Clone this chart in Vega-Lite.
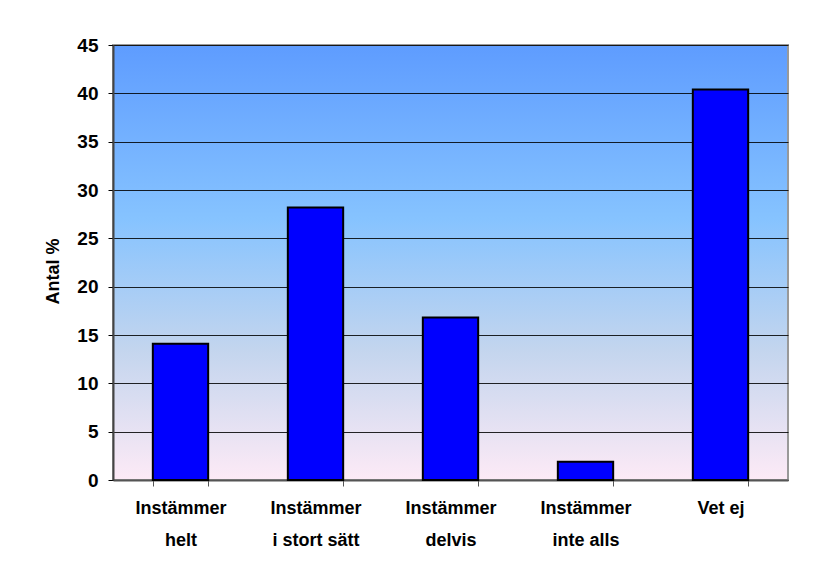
{
  "$schema": "https://vega.github.io/schema/vega-lite/v6.json",
  "autosize": "none",
  "width": 675,
  "height": 435,
  "padding": {"left": 113, "top": 45, "right": 26, "bottom": 103},
  "background": "white",
  "data": {
    "values": [
      {"kategori": "Instämmer helt", "antal": 14.1},
      {"kategori": "Instämmer i stort sätt", "antal": 28.2},
      {"kategori": "Instämmer delvis", "antal": 16.8},
      {"kategori": "Instämmer inte alls", "antal": 1.9},
      {"kategori": "Vet ej", "antal": 40.4}
    ]
  },
  "mark": {"type": "bar", "color": "#0000FF", "stroke": "#000000", "strokeWidth": 2},
  "encoding": {
    "x": {
      "field": "kategori",
      "type": "nominal",
      "sort": null,
      "scale": {"paddingInner": 0.59, "paddingOuter": 0.295},
      "axis": {
        "title": null,
        "labelAngle": 0,
        "labelExpr": "datum.value == 'Instämmer helt' ? ['Instämmer', 'helt'] : datum.value == 'Instämmer i stort sätt' ? ['Instämmer', 'i stort sätt'] : datum.value == 'Instämmer delvis' ? ['Instämmer', 'delvis'] : datum.value == 'Instämmer inte alls' ? ['Instämmer', 'inte alls'] : datum.value",
        "labelFont": "Liberation Sans",
        "labelFontWeight": "bold",
        "labelFontSize": 18,
        "labelColor": "#000000",
        "labelLineHeight": 32,
        "labelPadding": 13,
        "labelBaseline": "top",
        "tickBand": "extent",
        "tickSize": 6,
        "tickColor": "#555555",
        "domainColor": "#555555",
        "domainWidth": 2,
        "grid": false
      }
    },
    "y": {
      "field": "antal",
      "type": "quantitative",
      "scale": {"domain": [0, 45], "nice": false},
      "axis": {
        "title": "Antal %",
        "titleFont": "Liberation Sans",
        "titleFontWeight": "bold",
        "titleFontSize": 18,
        "titleColor": "#000000",
        "titlePadding": 14,
        "titleY": 226,
        "values": [0, 5, 10, 15, 20, 25, 30, 35, 40, 45],
        "labelFont": "Liberation Sans",
        "labelFontWeight": "bold",
        "labelFontSize": 19,
        "labelColor": "#000000",
        "labelPadding": 10,
        "tickSize": 5,
        "tickColor": "#000000",
        "domainColor": "#444444",
        "domainWidth": 2,
        "grid": true,
        "gridColor": "#000000",
        "gridWidth": 1,
        "gridOpacity": 0.85
      }
    }
  },
  "config": {
    "view": {
      "stroke": "#999999",
      "strokeWidth": 2,
      "fill": {
        "gradient": "linear",
        "x1": 0, "y1": 0, "x2": 0, "y2": 1,
        "stops": [
          {"offset": 0, "color": "#5E9CFF"},
          {"offset": 0.4, "color": "#86C3FF"},
          {"offset": 0.7, "color": "#C3D5EE"},
          {"offset": 1, "color": "#FDEAF6"}
        ]
      }
    }
  }
}
